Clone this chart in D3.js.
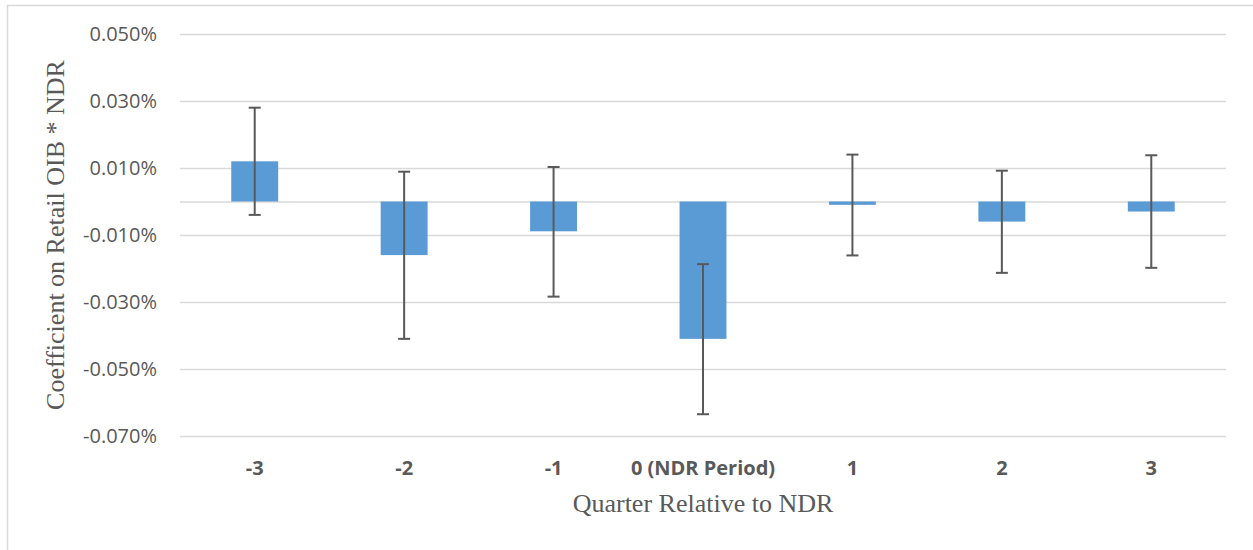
<!DOCTYPE html>
<html>
<head>
<meta charset="utf-8">
<script src="https://cdn.jsdelivr.net/npm/d3@7"></script>
<style>
  body { margin: 0; background: #fff; }
  svg { display: block; }
</style>
</head>
<body>
<div id="chart"></div>
<script>
(function(){

    // data (percent units)
    var categories = ["-3", "-2", "-1", "0 (NDR Period)", "1", "2", "3"];
    var coefValues = [0.0120, -0.0160, -0.0089, -0.0410, -0.0010, -0.0060, -0.0030];
    var errLow     = [-0.0040, -0.0410, -0.0284, -0.0635, -0.0161, -0.0213, -0.0198];
    var errHigh    = [0.0280, 0.0089, 0.0103, -0.0187, 0.0140, 0.0092, 0.0138];
    var yTicks     = [0.05, 0.03, 0.01, -0.01, -0.03, -0.05, -0.07];

    var chart = {
        width: 1253,
        height: 550,
        left: 180,
        right: 1226,
        top: 34,
        bottom: 436
    };

    var grey = "#595959";

    var svg = d3.select("#chart")
        .append("svg")
        .attr("width", chart.width)
        .attr("height", chart.height);

    /* chart border (only top and left show) */
    svg.append("rect")
        .attr("x", 7.5)
        .attr("y", 5.5)
        .attr("width", chart.width + 20)
        .attr("height", chart.height + 20)
        .style("fill", "none")
        .style("stroke", "#d9d9d9")
        .style("stroke-width", 1.5);

    var x = d3.scaleBand()
        .domain(categories)
        .range([chart.left, chart.right])
        .paddingInner(0.686)
        .paddingOuter(0.343);

    var y = d3.scaleLinear()
        .domain([-0.07, 0.05])
        .range([chart.bottom, chart.top]);

    var pct = d3.formatLocale({
        decimal: ".", thousands: ",", grouping: [3], currency: ["", ""], minus: "-"
    }).format(".3f");

    /* grid lines + y labels */
    var yAxis = d3.axisLeft(y)
        .tickValues(yTicks.concat([0]))
        .tickSize(-(chart.right - chart.left))
        .tickPadding(23)
        .tickFormat(function(d){ return d === 0 ? "" : pct(d) + "%"; });

    var gy = svg.append("g")
        .attr("transform", "translate(" + chart.left + ",0)")
        .call(yAxis);
    gy.select(".domain").remove();
    gy.selectAll(".tick line")
        .style("stroke", "#d9d9d9")
        .style("stroke-width", 1.5);
    gy.selectAll(".tick text")
        .style("fill", grey)
        .style("font-family", "'Open Sans', sans-serif")
        .style("font-size", "20px");

    /* bars */
    var data = categories.map(function(c, i){
        return { cat: c, v: coefValues[i], lo: errLow[i], hi: errHigh[i] };
    });

    svg.append("g").selectAll("rect")
        .data(data)
        .enter()
        .append("rect")
        .attr("x", function(d){ return x(d.cat); })
        .attr("width", x.bandwidth())
        .attr("y", function(d){ return y(Math.max(0, d.v)); })
        .attr("height", function(d){ return Math.abs(y(d.v) - y(0)); })
        .style("fill", "#5b9bd5");

    /* error bars */
    var eb = svg.append("g").selectAll("g")
        .data(data)
        .enter()
        .append("g")
        .attr("transform", function(d){ return "translate(" + (x(d.cat) + x.bandwidth() / 2) + ",0)"; })
        .style("stroke", grey)
        .style("stroke-width", 2);

    eb.append("line")
        .attr("y1", function(d){ return y(d.hi); })
        .attr("y2", function(d){ return y(d.lo); });
    eb.append("line")
        .attr("x1", -6).attr("x2", 6)
        .attr("y1", function(d){ return y(d.hi); })
        .attr("y2", function(d){ return y(d.hi); });
    eb.append("line")
        .attr("x1", -6).attr("x2", 6)
        .attr("y1", function(d){ return y(d.lo); })
        .attr("y2", function(d){ return y(d.lo); });

    /* x labels */
    svg.append("g").selectAll("text")
        .data(categories)
        .enter()
        .append("text")
        .attr("x", function(d){ return x(d) + x.bandwidth() / 2; })
        .attr("y", 475)
        .attr("text-anchor", "middle")
        .text(function(d){ return d; })
        .style("fill", grey)
        .style("font-family", "'Open Sans', sans-serif")
        .style("font-weight", "bold")
        .style("font-size", "20px");

    /* axis titles */
    svg.append("text")
        .attr("x", (chart.left + chart.right) / 2)
        .attr("y", 512)
        .attr("text-anchor", "middle")
        .text("Quarter Relative to NDR")
        .style("fill", grey)
        .style("font-family", "'Liberation Serif', serif")
        .style("font-size", "26px");

    svg.append("text")
        .attr("transform", "translate(64," + ((chart.top + chart.bottom) / 2) + ") rotate(-90)")
        .attr("text-anchor", "middle")
        .text("Coefficient on Retail OIB * NDR")
        .style("fill", grey)
        .style("font-family", "'Liberation Serif', serif")
        .style("font-size", "26px");

})();
</script>
</body>
</html>
